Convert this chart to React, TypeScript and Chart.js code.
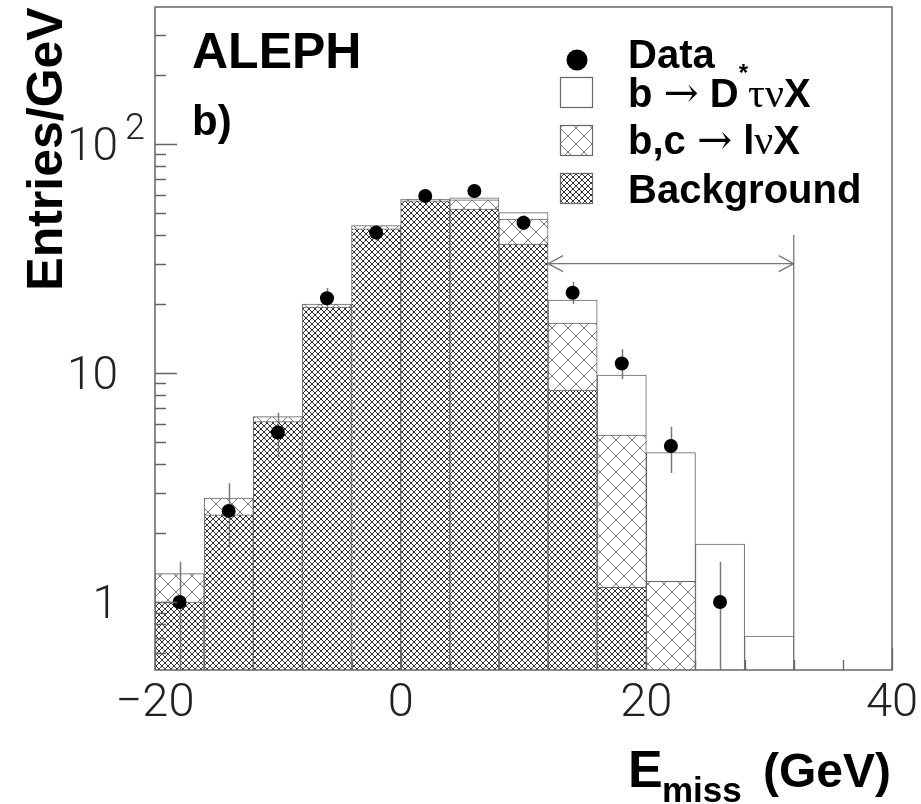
import React, { useEffect, useRef } from "react";
import { Chart, registerables } from "chart.js";
Chart.register(...registerables);

// Histogram bins (4 GeV wide), bin centres
const binCenters = [-18, -14, -10, -6, -2, 2, 6, 10, 14, 18, 22, 26, 30, 34, 38];
// Stacked components (entries / GeV)
const background = [1.0, 2.4, 6.13, 19.4, 42.6, 56.4, 52.0, 36.5, 8.43, 1.16, 0, 0, 0, 0, 0];
const bcLnuX = [0.33, 0.44, 0.32, 0.6, 1.4, 0.9, 5.0, 10.5, 8.07, 4.2, 1.23, 0, 0, 0, 0];
const dstarTauNuX = [0, 0, 0, 0, 0, 0, 1.1, 3.1, 4.3, 4.44, 3.26, 1.79, 0.71, 0, 0];

// Data points with error bars
const dataX = [-18, -14, -10, -6, -2, 2, 6, 10, 14, 18, 22, 26];
const dataY = [1.0, 2.5, 5.5, 21.2, 41.0, 59.3, 62.3, 45.3, 22.4, 11.0, 4.8, 1.0];
const dataErrLow = [0.01, 1.74, 4.3, 19.2, 38.0, 55.5, 58.4, 42.0, 20.0, 9.4, 3.66, 0.01];
const dataErrHigh = [1.5, 3.3, 6.7, 23.5, 44.0, 63.0, 66.5, 48.8, 25.0, 12.7, 5.82, 1.5];

// Signal window annotation
const windowRange = [12, 32];
const windowArrowLevel = 30;
const windowLineTop = 40;

// Axes
const xMin = -20, xMax = 40;
const yMin = 0.505, yMax = 396;
const xMajorTicks = [-20, 0, 20, 40];
const xTickLabels = ["\u221220", "0", "20", "40"];
const xMinorTicks = [-16, -12, -8, -4, 4, 8, 12, 16, 24, 28, 32, 36];
const yMajorTicks = [1, 10, 100];
const yTickBase = ["1", "10", "10"];
const yTickExp = ["", "", "2"];

const BOLD = '"Liberation Sans", Arial, Helvetica, sans-serif';
const THIN = 'Roboto, "Liberation Sans", sans-serif';

function makeHatch(p: number, color: string, lw: number) {
  const c = document.createElement("canvas");
  c.width = p;
  c.height = p;
  const g = c.getContext("2d")!;
  g.fillStyle = "#fff";
  g.fillRect(0, 0, p, p);
  g.strokeStyle = color;
  g.lineWidth = lw;
  g.beginPath();
  for (const s of [-p, 0, p]) {
    g.moveTo(-1 + s, -1);
    g.lineTo(p + 1 + s, p + 1);
    g.moveTo(p + 1 + s, -1);
    g.lineTo(-1 + s, p + 1);
  }
  g.stroke();
  return g.createPattern(c, "repeat")!;
}

type Run = { t: string; f: string; dy?: number };
function drawRuns(ctx: CanvasRenderingContext2D, x: number, y: number, runs: Run[]) {
  ctx.textAlign = "left";
  ctx.textBaseline = "alphabetic";
  for (const r of runs) {
    ctx.font = r.f;
    ctx.fillText(r.t, x, y + (r.dy || 0));
    x += ctx.measureText(r.t).width;
  }
}

export default function App() {
  const ref = useRef<HTMLCanvasElement>(null);

  useEffect(() => {
    const canvas = ref.current!;
    const dense = makeHatch(6, "#333", 1);
    const sparse = makeHatch(16, "#777", 1);

    const errorBars = {
      id: "errorBars",
      afterDatasetDraw(chart: any, args: any) {
        if (args.index !== 1) return;
        const { ctx, chartArea: a, scales } = chart;
        const x = scales.x, y = scales.y;
        ctx.save();
        ctx.beginPath();
        ctx.rect(a.left, a.top, a.right - a.left, a.bottom - a.top);
        ctx.clip();
        ctx.strokeStyle = "#777";
        ctx.lineWidth = 1.5;
        dataX.forEach((xv, i) => {
          const px = Math.round(x.getPixelForValue(xv)) + 0.5;
          ctx.beginPath();
          ctx.moveTo(px, y.getPixelForValue(dataErrHigh[i]));
          ctx.lineTo(px, y.getPixelForValue(dataErrLow[i]));
          ctx.stroke();
        });
        ctx.restore();
      },
    };

    const annotations = {
      id: "annotations",
      afterDatasetsDraw(chart: any) {
        const { ctx, chartArea: a, scales } = chart;
        const x = scales.x, y = scales.y;
        const x1 = x.getPixelForValue(windowRange[0]);
        const x2 = x.getPixelForValue(windowRange[1]);
        const py = y.getPixelForValue(windowArrowLevel);
        ctx.save();
        ctx.strokeStyle = "#777";
        ctx.lineWidth = 1.3;
        ctx.beginPath();
        ctx.moveTo(x1, py);
        ctx.lineTo(x2, py);
        ctx.moveTo(x1 + 15, py - 8);
        ctx.lineTo(x1, py);
        ctx.lineTo(x1 + 15, py + 8);
        ctx.moveTo(x2 - 15, py - 8);
        ctx.lineTo(x2, py);
        ctx.lineTo(x2 - 15, py + 8);
        ctx.moveTo(x2, y.getPixelForValue(windowLineTop));
        ctx.lineTo(x2, a.bottom);
        ctx.stroke();
        ctx.restore();
      },
    };

    const frame = {
      id: "frame",
      afterDraw(chart: any) {
        const { ctx, chartArea: a, scales } = chart;
        const x = scales.x, y = scales.y;
        ctx.save();
        ctx.strokeStyle = "#666";
        ctx.lineWidth = 1.5;
        ctx.strokeRect(a.left, a.top, a.right - a.left, a.bottom - a.top);

        // y ticks (inside)
        ctx.lineWidth = 1.3;
        ctx.beginPath();
        for (let k = -1; k <= 2; k++) {
          for (let m = 1; m <= 9; m++) {
            const v = m * Math.pow(10, k);
            if (v <= yMin || v >= yMax) continue;
            const py = Math.round(y.getPixelForValue(v)) + 0.5;
            const len = m === 1 ? 22 : 11;
            ctx.moveTo(a.left, py);
            ctx.lineTo(a.left + len, py);
          }
        }
        // x ticks (inside)
        xMajorTicks.forEach((v) => {
          const px = Math.round(x.getPixelForValue(v)) + 0.5;
          ctx.moveTo(px, a.bottom);
          ctx.lineTo(px, a.bottom - 22);
        });
        xMinorTicks.forEach((v) => {
          const px = Math.round(x.getPixelForValue(v)) + 0.5;
          ctx.moveTo(px, a.bottom);
          ctx.lineTo(px, a.bottom - 10);
        });
        ctx.stroke();

        // tick labels
        ctx.fillStyle = "#222";
        ctx.textBaseline = "alphabetic";
        yMajorTicks.forEach((v, i) => {
          const py = y.getPixelForValue(v);
          ctx.font = `300 46px ${THIN}`;
          ctx.textAlign = "right";
          ctx.fillText(yTickBase[i], 118, py + 16);
          if (yTickExp[i]) {
            ctx.font = `300 36px ${THIN}`;
            ctx.textAlign = "left";
            ctx.fillText(yTickExp[i], 125, py - 5);
          }
        });
        ctx.font = `300 47px ${THIN}`;
        ctx.textAlign = "center";
        xMajorTicks.forEach((v, i) => {
          ctx.fillText(xTickLabels[i], x.getPixelForValue(v), a.bottom + 46);
        });

        // axis titles
        ctx.fillStyle = "#000";
        ctx.save();
        ctx.translate(62, 149);
        ctx.rotate(-Math.PI / 2);
        ctx.font = `bold 50px ${BOLD}`;
        ctx.textAlign = "center";
        ctx.fillText("Entries/GeV", 0, 0);
        ctx.restore();

        ctx.textAlign = "left";
        ctx.font = `bold 52px ${BOLD}`;
        ctx.fillText("E", 628, 787);
        ctx.font = `bold 35px ${BOLD}`;
        ctx.fillText("miss", 662, 802);
        ctx.font = `bold 48px ${BOLD}`;
        ctx.textAlign = "right";
        ctx.fillText("(GeV)", 891, 787);

        // labels
        ctx.textAlign = "left";
        ctx.font = `bold 50px ${BOLD}`;
        ctx.fillText("ALEPH", 192, 68);
        ctx.font = `bold 42px ${BOLD}`;
        ctx.fillText("b)", 192, 135);

        // legend
        ctx.beginPath();
        ctx.arc(577, 60, 10.5, 0, Math.PI * 2);
        ctx.fill();
        const boxes: [number, any][] = [
          [77, "#fff"],
          [125, sparse],
          [173, dense],
        ];
        boxes.forEach(([top, fill]) => {
          ctx.fillStyle = fill;
          ctx.fillRect(560, top, 33, 30);
          ctx.strokeStyle = "#666";
          ctx.lineWidth = 1.2;
          ctx.strokeRect(560.5, top + 0.5, 32, 30);
        });
        ctx.fillStyle = "#000";
        const B = `bold 40px ${BOLD}`;
        const ARR = `42px "DejaVu Serif", "Liberation Serif", serif`;
        const GR = `42px "Liberation Serif", "DejaVu Serif", serif`;
        drawRuns(ctx, 628, 68, [{ t: "Data", f: B }]);
        drawRuns(ctx, 628, 107, [
          { t: "b ", f: B },
          { t: "\u2192", f: ARR },
          { t: " D", f: B },
          { t: "*", f: `bold 24px ${BOLD}`, dy: -26 },
          { t: "\u03c4\u03bd", f: GR },
          { t: "X", f: B },
        ]);
        drawRuns(ctx, 628, 154, [
          { t: "b,c ", f: B },
          { t: "\u2192", f: ARR },
          { t: " l", f: B },
          { t: "\u03bd", f: GR },
          { t: "X", f: B },
        ]);
        drawRuns(ctx, 628, 203, [{ t: "Background", f: B }]);
        ctx.restore();
      },
    };

    const toPts = (arr: number[]) => binCenters.map((x, i) => ({ x, y: arr[i] > 0 ? arr[i] : null }));
    const barCommon = {
      type: "bar" as const,
      borderColor: "#666",
      borderWidth: 1,
      barPercentage: 1,
      categoryPercentage: 1,
      order: 1,
    };

    const chart = new Chart(canvas, {
      type: "bar",
      data: {
        datasets: [
          {
            type: "line",
            label: "Data",
            data: dataX.map((x, i) => ({ x, y: dataY[i] })),
            showLine: false,
            pointRadius: 7,
            pointHoverRadius: 7,
            pointBackgroundColor: "#000",
            pointBorderWidth: 0,
            order: 0,
          } as any,
          { ...barCommon, label: "Background", data: toPts(background), backgroundColor: dense } as any,
          { ...barCommon, label: "b,c \u2192 l\u03bdX", data: toPts(bcLnuX), backgroundColor: sparse } as any,
          { ...barCommon, label: "b \u2192 D*\u03c4\u03bdX", data: toPts(dstarTauNuX), backgroundColor: "#fff" } as any,
        ],
      },
      options: {
        responsive: false,
        animation: false,
        events: [],
        layout: { padding: { left: 155, top: 7, right: 29, bottom: 134 } },
        plugins: { legend: { display: false }, tooltip: { enabled: false } },
        scales: {
          x: {
            type: "linear",
            min: xMin,
            max: xMax,
            offset: false,
            stacked: true,
            display: false,
            ticks: { stepSize: 20 },
          },
          y: {
            type: "logarithmic",
            min: yMin,
            max: yMax,
            stacked: true,
            display: false,
          },
        },
      } as any,
      plugins: [errorBars, annotations, frame],
    });
    return () => chart.destroy();
  }, []);

  return (
    <div style={{ position: "fixed", left: 0, top: 0, width: 921, height: 804, background: "#fff" }}>
      <canvas ref={ref} width={921} height={804} style={{ display: "block" }} />
    </div>
  );
}
